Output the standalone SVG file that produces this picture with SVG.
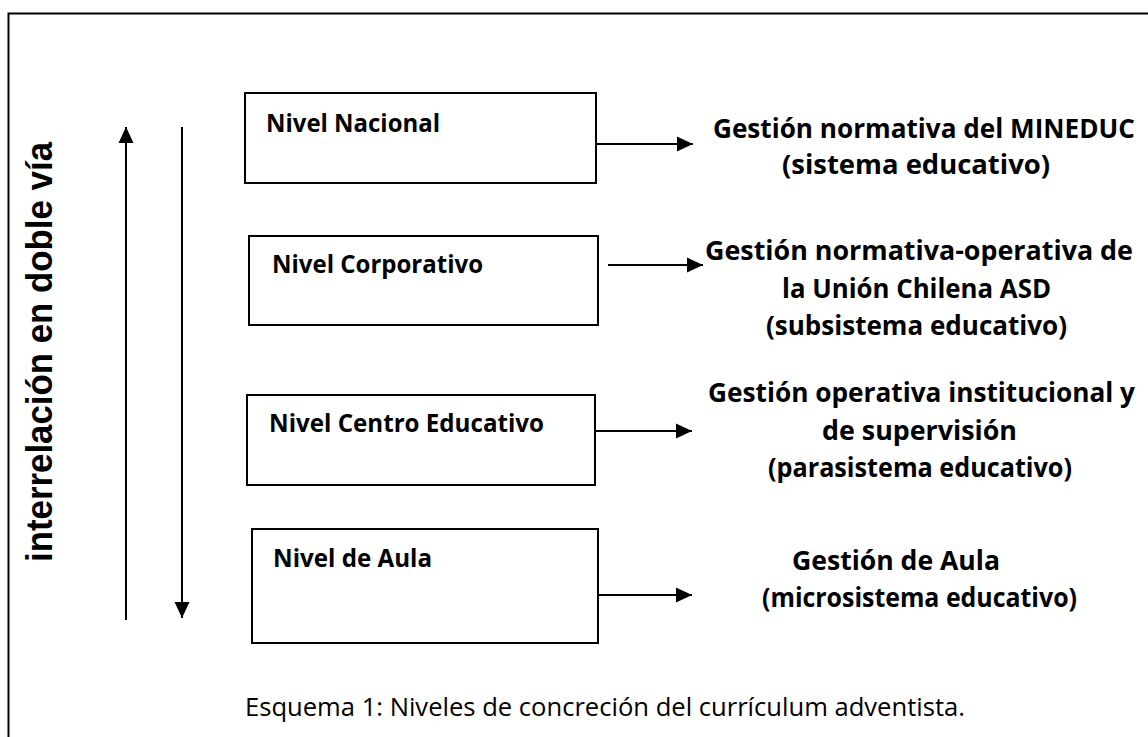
<svg xmlns="http://www.w3.org/2000/svg" width="1148" height="737" viewBox="0 0 1148 737">
<style>
.frame{fill:none;stroke:#000;stroke-width:2}
.box{fill:#fff;stroke:#000;stroke-width:2}
text{font-variant-ligatures:none}
.lbl{font-family:"Open Sans",Lato,"Liberation Sans",sans-serif;font-weight:bold;font-size:25px;fill:#000}
.desc{font-family:"Open Sans",Lato,"Liberation Sans",sans-serif;font-weight:bold;font-size:26px;fill:#000}
.cap{font-family:"Open Sans",Lato,"Liberation Sans",sans-serif;font-size:25px;fill:#000}
.side{font-family:"Liberation Sans",Arial,sans-serif;font-weight:bold;font-size:37px;fill:#000}
.conn{stroke:#000;stroke-width:2;fill:none}
</style>
<defs>
<marker id="ah" markerUnits="userSpaceOnUse" markerWidth="18" markerHeight="18" viewBox="0 0 18 18" refX="16" refY="9" orient="auto">
<path d="M0,1.5 L16,9 L0,16.5 Z" fill="#000"/>
</marker>
</defs>
<rect class="frame" x="8.5" y="13.5" width="1150" height="740"/>
<g id="side-label">
<text class="side" transform="translate(52,352) rotate(-90)" text-anchor="middle" textLength="420" lengthAdjust="spacingAndGlyphs">interrelación en doble vía</text>
</g>
<g id="connectors">
<line class="conn" x1="126" y1="620" x2="126" y2="127" marker-end="url(#ah)"/>
<line class="conn" x1="182" y1="127" x2="182" y2="618" marker-end="url(#ah)"/>
<line class="conn" x1="596" y1="144" x2="693" y2="144" marker-end="url(#ah)"/>
<line class="conn" x1="608" y1="265" x2="703" y2="265" marker-end="url(#ah)"/>
<line class="conn" x1="595" y1="431" x2="692" y2="431" marker-end="url(#ah)"/>
<line class="conn" x1="598" y1="595" x2="692" y2="595" marker-end="url(#ah)"/>
</g>
<g id="nivel-nacional">
<rect class="box" x="245" y="93" width="351" height="90"/>
<text class="lbl" x="266" y="132" textLength="174" lengthAdjust="spacingAndGlyphs">Nivel Nacional</text>
</g>
<g id="nivel-corporativo">
<rect class="box" x="249" y="236" width="349" height="89"/>
<text class="lbl" x="272" y="273" textLength="211" lengthAdjust="spacingAndGlyphs">Nivel Corporativo</text>
</g>
<g id="nivel-centro">
<rect class="box" x="247" y="395" width="348" height="90"/>
<text class="lbl" x="269" y="432" textLength="275" lengthAdjust="spacingAndGlyphs">Nivel Centro Educativo</text>
</g>
<g id="nivel-aula">
<rect class="box" x="252" y="529" width="346" height="114"/>
<text class="lbl" x="273" y="567" textLength="159" lengthAdjust="spacingAndGlyphs">Nivel de Aula</text>
</g>
<g id="gestion-mineduc">
<text class="desc" x="713" y="138" textLength="422" lengthAdjust="spacingAndGlyphs">Gestión normativa del MINEDUC</text>
<text class="desc" x="782" y="174" textLength="268" lengthAdjust="spacingAndGlyphs">(sistema educativo)</text>
</g>
<g id="gestion-union">
<text class="desc" x="705" y="260" textLength="428" lengthAdjust="spacingAndGlyphs">Gestión normativa-operativa de</text>
<text class="desc" x="782" y="298" textLength="269" lengthAdjust="spacingAndGlyphs">la Unión Chilena ASD</text>
<text class="desc" x="766" y="335" textLength="301" lengthAdjust="spacingAndGlyphs">(subsistema educativo)</text>
</g>
<g id="gestion-institucional">
<text class="desc" x="708" y="402" textLength="427" lengthAdjust="spacingAndGlyphs">Gestión operativa institucional y</text>
<text class="desc" x="822" y="440" textLength="195" lengthAdjust="spacingAndGlyphs">de supervisión</text>
<text class="desc" x="768" y="477" textLength="304" lengthAdjust="spacingAndGlyphs">(parasistema educativo)</text>
</g>
<g id="gestion-aula">
<text class="desc" x="792" y="570" textLength="208" lengthAdjust="spacingAndGlyphs">Gestión de Aula</text>
<text class="desc" x="762" y="607" textLength="315" lengthAdjust="spacingAndGlyphs">(microsistema educativo)</text>
</g>
<g id="caption">
<text class="cap" x="245" y="716" textLength="720" lengthAdjust="spacingAndGlyphs">Esquema 1: Niveles de concreción del currículum adventista.</text>
</g>
</svg>
